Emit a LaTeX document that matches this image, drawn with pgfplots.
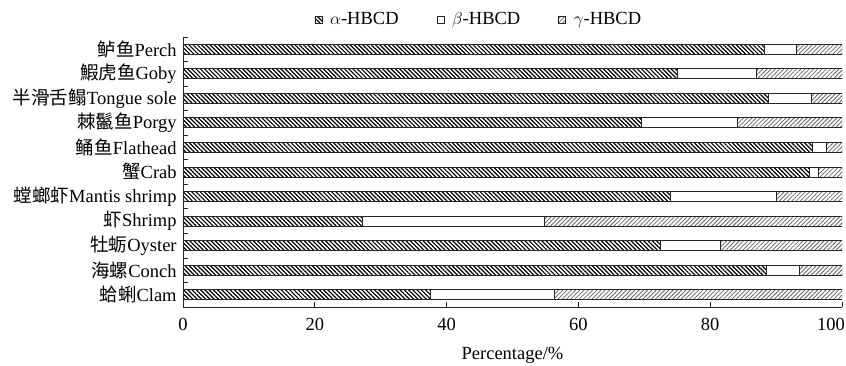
\documentclass[border=0pt]{standalone}
\usepackage{fontspec}
\setmainfont{Liberation Serif}
\newfontfamily\cjk{Noto Sans CJK SC}
\usepackage{pgfplots}
\pgfplotsset{compat=1.18}
\usetikzlibrary{patterns.meta}
\begin{document}
\fontsize{18.5}{22}\selectfont
\begin{tikzpicture}
\begin{axis}[
  scale only axis, width=659pt, height=270pt,
  xbar stacked, bar width=10pt,
  xmin=0, xmax=100, ymin=-0.5, ymax=10.5,
  axis x line*=bottom, axis y line*=left,
  axis line style={line width=0.8pt, black!85},
  tick style={line width=0.8pt, black!85},
  tick align=inside, major tick length=5pt,
  xtick={0,20,40,60,80,100},
  xticklabels={0,20,40,60,80,\makebox[0pt][c]{\kern-22pt 100}},
  ytick={-0.5,0.5,1.5,2.5,3.5,4.5,5.5,6.5,7.5,8.5,9.5,10.5},
  y tick label as interval,
  yticklabels={{{\cjk 蛤蜊}Clam},{{\cjk 海螺}Conch},{{\cjk 牡蛎}Oyster},{{\cjk 虾}Shrimp},{{\cjk 螳螂虾}Mantis shrimp},{{\cjk 蟹}Crab},{{\cjk 鲬鱼}Flathead},{{\cjk 棘鬣鱼}Porgy},{{\cjk 半滑舌鳎}Tongue sole},{{\cjk 鰕虎鱼}Goby},{{\cjk 鲈鱼}Perch}},
  /pgf/number format/assume math mode=true,
  xticklabel style={yshift=-5pt},
  xlabel={Percentage/\%},
  xlabel style={yshift=-4pt},
  legend columns=3,
  legend style={draw=none, at={(0.449,1)}, anchor=center, yshift=17pt,
    /tikz/every odd column/.append style={column sep=6pt},
    /tikz/every even column/.append style={column sep=36pt}},
  legend image code/.code={\draw[#1, line width=0.6pt] (0pt,-3.5pt) rectangle (7pt,3.5pt);},
  every axis plot/.append style={draw=black!85, line width=0.9pt},
]
\addplot[pattern={Lines[angle=-45,distance=3pt,line width=1.2pt]}, pattern color=black] coordinates {
(37.6,0) (88.6,1) (72.5,2) (27.2,3) (73.9,4) (95.1,5) (95.5,6) (69.5,7) (88.9,8) (75.0,9) (88.2,10)};
\addplot[fill=white] coordinates {
(18.7,0) (5.0,1) (9.0,2) (27.6,3) (16.1,4) (1.4,5) (2.2,6) (14.6,7) (6.4,8) (12.0,9) (4.9,10)};
\addplot[pattern={Lines[angle=45,distance=3pt,line width=0.8pt]}, pattern color=black!60] coordinates {
(43.7,0) (6.4,1) (18.5,2) (45.2,3) (10.0,4) (3.5,5) (2.3,6) (15.9,7) (4.7,8) (13.0,9) (6.9,10)};
\legend{$\alpha$-HBCD, $\beta$-HBCD, $\gamma$-HBCD}
\coordinate (sw) at (rel axis cs:0,0);
\coordinate (ne) at (rel axis cs:1,1);
\end{axis}
\pgfresetboundingbox
\path ([xshift=-183pt,yshift=-58pt]sw) rectangle ([xshift=4pt,yshift=37pt]ne);
\end{tikzpicture}
\end{document}
